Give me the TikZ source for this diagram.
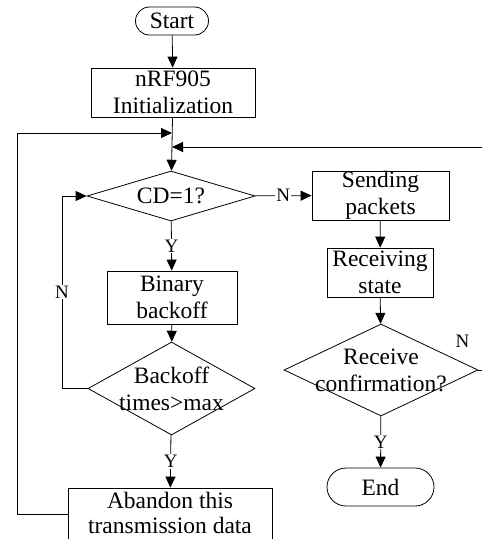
\documentclass[tikz,border=0pt]{standalone}
\usepackage{fontspec}
\setmainfont{Liberation Serif}
\usetikzlibrary{shapes.geometric,shapes.misc,arrows.meta,positioning}

\tikzset{
  terminal/.style={rounded rectangle, draw, inner sep=0pt},
  process/.style={rectangle, draw, align=center, inner sep=0pt},
  decision/.style={diamond, draw, inner sep=0pt, label={[align=center]center:#1}},
  flow/.style={-{Triangle[length=11pt,width=10pt]}},
  yn/.style={fill=white, inner sep=1pt, font=\fontsize{19}{19}\selectfont}
}

\begin{document}
\begin{tikzpicture}[x=1pt, y=-1pt, line width=0.8pt, font=\fontsize{23.5}{27}\selectfont]
  \useasboundingbox (0,0) rectangle (482,539);

  % left column
  \node[terminal, minimum width=73pt, minimum height=28pt] (start) at (172,21) {Start};
  \node[process, minimum width=164pt, minimum height=49pt] (init) at (173,92.5) {nRF905\\Initialization};
  \node[decision={CD=1?}, minimum width=168pt, minimum height=50pt] (cd) at (171,196) {};
  \node[process, minimum width=130pt, minimum height=53pt] (binary) at (172,297.5) {Binary\\backoff};
  \node[decision={Backoff\\times>max}, minimum width=167pt, minimum height=93pt] (backoff) at (171.5,388.5) {};
  \node[process, minimum width=204pt, minimum height=56pt] (abandon) at (170,516) {\raisebox{3pt}{\begin{tabular}{@{}c@{}}Abandon this\\[-2pt]transmission data\end{tabular}}};

  % right column
  \node[process, minimum width=137pt, minimum height=49pt] (send) at (380.5,195.5) {Sending\\packets};
  \node[process, minimum width=106pt, minimum height=49pt] (recv) at (380,272.5) {Receiving\\state};
  \node[decision={Receive\\confirmation?}, minimum width=194pt, minimum height=92pt] (confirm) at (381,370) {};
  \node[terminal, minimum width=107pt, minimum height=38pt] (stop) at (380.5,487) {End};

  \coordinate (joinA) at (172,133);
  \coordinate (joinB) at (172,147);

  \draw[flow] (start) -- (init);
  \draw[flow] (init) -- (cd);
  \draw[flow] (cd) -- node[yn]{N} (send);
  \draw[flow] (cd) -- node[yn]{Y} (binary);
  \draw[flow] (binary) -- (backoff);
  \draw[flow] (backoff.west) -- (62,388.5) -- node[yn]{N} (62,196) -- (cd.west);
  \draw[flow] (backoff) -- node[yn]{Y} (abandon);
  \draw[flow] (abandon.west |- 0,514) -| (17,133) -- (joinA);
  \draw[flow] (send) -- (recv);
  \draw[flow] (recv) -- (confirm);
  \draw[flow] (confirm) -- node[yn]{Y} (stop);
  \draw[flow] (confirm.east) -- node[yn, pos=0, xshift=-16pt, yshift=29pt, fill=none]{N} (484,370) -- (484,147) -- (joinB);
\end{tikzpicture}
\end{document}
